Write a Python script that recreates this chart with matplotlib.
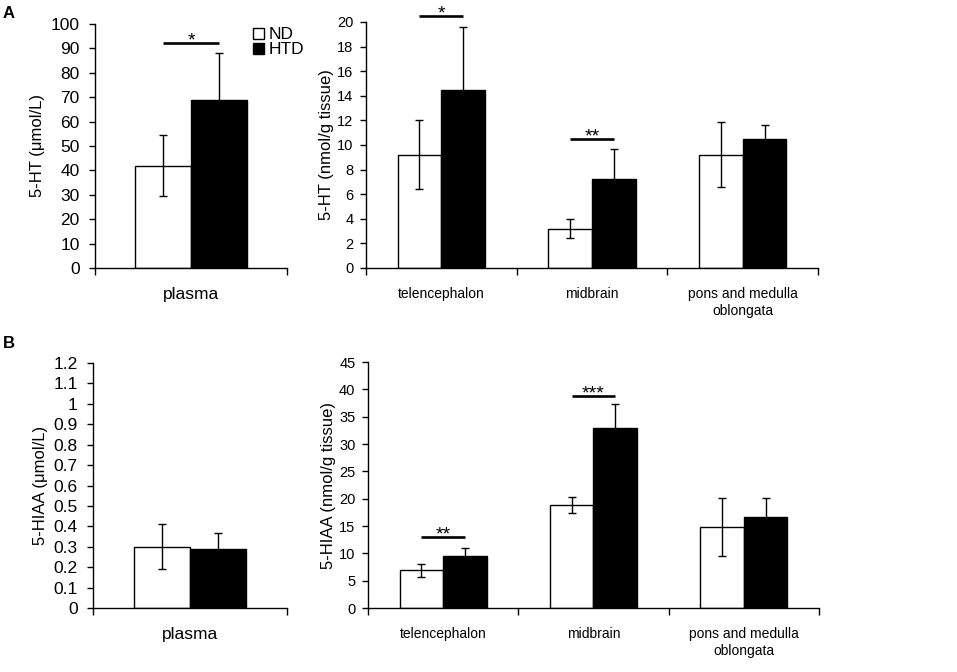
import numpy as np
import matplotlib.pyplot as plt
from matplotlib.patches import Patch

plt.rcParams['font.family'] = ['Liberation Sans', 'DejaVu Sans']

# 5-HT plasma (umol/L)
ht_plasma_nd = [42.0]
ht_plasma_nd_err = [12.5]
ht_plasma_htd = [69.0]
ht_plasma_htd_err = [19.0]

# 5-HT brain (nmol/g tissue)
brain_regions = ["telencephalon", "midbrain", "pons and medulla\noblongata"]
ht_brain_nd = [9.2, 3.2, 9.2]
ht_brain_nd_err = [2.8, 0.75, 2.65]
ht_brain_htd = [14.5, 7.2, 10.5]
ht_brain_htd_err = [5.1, 2.45, 1.15]

# 5-HIAA plasma (umol/L)
hiaa_plasma_nd = [0.30]
hiaa_plasma_nd_err = [0.11]
hiaa_plasma_htd = [0.29]
hiaa_plasma_htd_err = [0.078]

# 5-HIAA brain (nmol/g tissue)
hiaa_brain_nd = [6.9, 18.8, 14.8]
hiaa_brain_nd_err = [1.2, 1.45, 5.3]
hiaa_brain_htd = [9.6, 32.9, 16.7]
hiaa_brain_htd_err = [1.3, 4.5, 3.4]

# significance marks: (category index, line height, star text)
sig_ht_plasma = [(0, 92.3, "*")]
sig_ht_brain = [(0, 20.5, "*"), (1, 10.45, "**")]
sig_hiaa_plasma = []
sig_hiaa_brain = [(0, 13.0, "**"), (1, 38.8, "***")]

bar_w = 0.29


def draw_panel(ax, cats, nd, nd_err, htd, htd_err, ymax, ystep, ylabel, sigs, fmt,
               tick_fs, cat_fs, ylab_fs, ypad, ylabpad):
    x = np.arange(len(cats))
    ekw = dict(elinewidth=1, capthick=1, ecolor='black')
    ax.bar(x - bar_w / 2, nd, bar_w, color='white', edgecolor='black', linewidth=1,
           yerr=nd_err, capsize=2.6, error_kw=ekw)
    ax.bar(x + bar_w / 2, htd, bar_w, color='black', edgecolor='black', linewidth=1,
           yerr=htd_err, capsize=2.6, error_kw=ekw)
    ax.set_xlim(-0.5, len(cats) - 0.5)
    ax.set_ylim(0, ymax)
    ticks = np.arange(0, ymax + ystep / 2, ystep)
    ax.set_yticks(ticks)
    ax.set_yticklabels([fmt(v) for v in ticks])
    ax.set_xticks(np.arange(len(cats) + 1) - 0.5)
    ax.set_xticklabels([])
    ax.set_xticks(x, minor=True)
    ax.set_xticklabels(cats, minor=True, fontsize=cat_fs)
    ax.tick_params(axis='x', which='minor', length=0, pad=14)
    ax.tick_params(axis='x', which='major', length=5, width=1, direction='out')
    ax.tick_params(axis='y', length=4, width=1, direction='out', labelsize=tick_fs, pad=ypad)
    ax.spines['top'].set_visible(False)
    ax.spines['right'].set_visible(False)
    ax.spines['left'].set_linewidth(1)
    ax.spines['bottom'].set_linewidth(1)
    ax.set_ylabel(ylabel, fontsize=ylab_fs, labelpad=ylabpad)
    for i, h, s in sigs:
        ax.plot([i - bar_w / 2, i + bar_w / 2], [h, h], color='black', lw=1.9,
                solid_capstyle='butt', clip_on=False)
        ax.annotate(s, (i, h), xytext=(0, -1.8), textcoords='offset points',
                    ha='center', va='baseline', fontsize=14, annotation_clip=False)


fig = plt.figure(figsize=(9.57, 6.72), dpi=100)

ax1 = fig.add_axes([0.0993, 0.6012, 0.2006, 0.3631])
ax2 = fig.add_axes([0.3824, 0.6012, 0.4724, 0.3661])
ax3 = fig.add_axes([0.0972, 0.0952, 0.2027, 0.3646])
ax4 = fig.add_axes([0.3845, 0.0952, 0.4713, 0.3661])

int_fmt = lambda v: "%d" % round(v)
dec_fmt = lambda v: ("%g" % round(v, 1))

draw_panel(ax1, ["plasma"], ht_plasma_nd, ht_plasma_nd_err, ht_plasma_htd, ht_plasma_htd_err,
           100, 10, "5-HT (μmol/L)", sig_ht_plasma, int_fmt, 12.5, 12.5, 12, 7, 4)
draw_panel(ax2, brain_regions, ht_brain_nd, ht_brain_nd_err, ht_brain_htd, ht_brain_htd_err,
           20, 2, "5-HT (nmol/g tissue)", sig_ht_brain, int_fmt, 10.5, 10, 12, 5, 2)
draw_panel(ax3, ["plasma"], hiaa_plasma_nd, hiaa_plasma_nd_err, hiaa_plasma_htd, hiaa_plasma_htd_err,
           1.2, 0.1, "5-HIAA (μmol/L)", sig_hiaa_plasma, dec_fmt, 12.5, 12.5, 12, 7, 4)
draw_panel(ax4, brain_regions, hiaa_brain_nd, hiaa_brain_nd_err, hiaa_brain_htd, hiaa_brain_htd_err,
           45, 5, "5-HIAA (nmol/g tissue)", sig_hiaa_brain, int_fmt, 10.5, 10, 12, 5, 2)

handles = [Patch(facecolor='white', edgecolor='black', linewidth=1, label='ND'),
           Patch(facecolor='black', edgecolor='black', linewidth=1, label='HTD')]
fig.legend(handles=handles, loc='upper left', bbox_to_anchor=(243 / 957, 1 - 17 / 672),
           frameon=False, fontsize=12.5, handlelength=0.6, handleheight=0.6,
           handletextpad=0.25, labelspacing=0.0, borderpad=0.1)

fig.text(3 / 957, 1 - 14 / 672, "A", fontsize=12, fontweight='bold', va='center', ha='left')
fig.text(3 / 957, 1 - 343 / 672, "B", fontsize=12, fontweight='bold', va='center', ha='left')

fig.savefig("out.png", dpi=100)
